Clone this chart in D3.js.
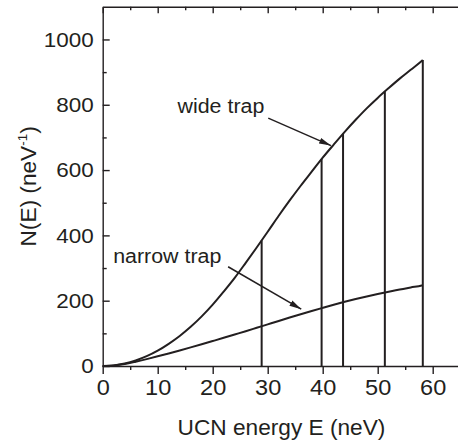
<!DOCTYPE html>
<html>
<head>
<meta charset="utf-8">
<script src="https://cdn.jsdelivr.net/npm/d3@7"></script>
<style>
  html, body { margin: 0; padding: 0; background: #fff; }
  svg { display: block; }
  text { font-family: "Liberation Sans", Arial, Helvetica, sans-serif; fill: #231f20; }
</style>
</head>
<body>
<svg id="chart" width="458" height="443"></svg>
<script>
// UCN energy grid (neV)
const energy = [0, 2, 4, 6, 8, 10, 12, 14, 16, 18, 20, 22, 24, 26, 28, 30, 32, 34, 36, 38,
                40, 42, 44, 46, 48, 50, 52, 54, 56, 58, 58.2];
// Spectrum N(E) for the wide trap (neV^-1)
const wideTrap = [0, 1.9, 7.5, 17, 30, 47, 68, 92, 120, 152, 188, 228, 270, 316, 363, 411, 460, 507, 552, 595,
                  638, 678, 717, 754, 789, 821, 851, 880, 907, 934, 937];
// Spectrum N(E) for the narrow trap (neV^-1)
const narrowTrap = [0, 1.8, 6, 13, 21, 29.6, 38.5, 47.6, 57, 66.6, 76.4, 86.3, 96.4, 106.5, 117, 127.5, 138, 148.3, 158.4, 168.3,
                    178, 187.5, 196.5, 205, 213, 220.5, 227.5, 234, 240.5, 246.5, 247.5];
// Energy cut-offs marked by vertical lines (neV)
const cutoffs = [28.9, 39.8, 43.7, 51.3, 58.2];

// Axis ticks
const xMajorTicks = [0, 10, 20, 30, 40, 50, 60];
const xMinorTicks = [5, 15, 25, 35, 45, 55];
const yMajorTicks = [0, 200, 400, 600, 800, 1000];
const yMinorTicks = [100, 300, 500, 700, 900];

// Annotation labels: text, label anchor and arrow (data units)
const labels = ["wide trap", "narrow trap"];
const labelAt = [[13.6, 774], [1.9, 314]];
const arrowFrom = [[30.1, 759], [22.8, 304]];
const arrowTo = [[41.5, 675], [36.1, 174]];

const ink = "#231f20";
const stretch = 1.07;   // slightly wide lettering
const svg = d3.select("#chart");

const x = d3.scaleLinear().domain([0, 65]).range([102.7, 460.2]);
const y = d3.scaleLinear().domain([0, 1100]).range([366, 6.8]);

// arrowhead marker
svg.append("defs").append("marker")
  .attr("id", "head")
  .attr("viewBox", "0 -4 12 8")
  .attr("refX", 12).attr("refY", 0)
  .attr("markerUnits", "userSpaceOnUse")
  .attr("markerWidth", 12).attr("markerHeight", 8)
  .attr("orient", "auto")
  .append("path")
  .attr("d", "M0,-3L12,0L0,3Z")
  .attr("fill", ink);

function styleAxis(g, size = 21) {
  g.selectAll("path, line").attr("stroke", ink).attr("stroke-width", 1.4);
  g.selectAll("text").attr("fill", ink).attr("font-size", size)
    .attr("font-family", "Liberation Sans, Arial, sans-serif");
}
// widen tick labels about their own anchor
function widen(g) {
  g.selectAll(".tick text").each(function () {
    const t = d3.select(this);
    const tx = +t.attr("x") || 0;
    t.attr("x", tx / stretch).attr("transform", `scale(${stretch},1)`);
  });
}

// bottom axis: outward ticks
const gx = svg.append("g").attr("transform", `translate(0,${y(0)})`);
gx.call(d3.axisBottom(x).tickValues(xMajorTicks).tickFormat(d3.format("d"))
    .tickSizeInner(8).tickSizeOuter(0).tickPadding(5))
  .call(styleAxis, 22).call(widen);
gx.append("g").call(d3.axisBottom(x).tickValues(xMinorTicks).tickSize(4).tickFormat(""))
  .call(g => g.select(".domain").remove()).call(styleAxis);

// left axis: inward ticks
const gy = svg.append("g").attr("transform", `translate(${x(0)},0)`);
gy.call(d3.axisLeft(y).tickValues(yMajorTicks).tickFormat(d3.format("d"))
    .tickSizeInner(-7).tickSizeOuter(0).tickPadding(9))
  .call(styleAxis).call(widen);
gy.append("g").call(d3.axisLeft(y).tickValues(yMinorTicks).tickSize(-4).tickFormat(""))
  .call(g => g.select(".domain").remove()).call(styleAxis);

// top frame with inward ticks, no labels
const gt = svg.append("g").attr("transform", `translate(0,${y(1100)})`);
gt.call(d3.axisTop(x).tickValues(xMajorTicks).tickSizeInner(-6.5).tickSizeOuter(0).tickFormat(""))
  .call(styleAxis);
gt.append("g").call(d3.axisTop(x).tickValues(xMinorTicks).tickSize(-3.5).tickFormat(""))
  .call(g => g.select(".domain").remove()).call(styleAxis);

// spectra
const line = d3.line().x(d => x(d[0])).y(d => y(d[1])).curve(d3.curveMonotoneX);
[wideTrap, narrowTrap].forEach(series => {
  svg.append("path")
    .datum(energy.map((e, i) => [e, series[i]]))
    .attr("d", line)
    .attr("fill", "none")
    .attr("stroke", ink)
    .attr("stroke-width", 2);
});

// cut-off lines rise from the axis to the wide-trap spectrum
const wideAt = e => {
  const i = Math.min(d3.bisectRight(energy, e), energy.length - 1);
  const e0 = energy[i - 1], e1 = energy[i];
  const t = (e - e0) / (e1 - e0);
  return wideTrap[i - 1] + t * (wideTrap[i] - wideTrap[i - 1]);
};
svg.append("g").selectAll("line")
  .data(cutoffs)
  .join("line")
  .attr("x1", d => x(d)).attr("x2", d => x(d))
  .attr("y1", y(0)).attr("y2", d => y(wideAt(d)))
  .attr("stroke", ink).attr("stroke-width", 2);

// annotations
labels.forEach((t, i) => {
  svg.append("text")
    .attr("transform", `translate(${x(labelAt[i][0])},${y(labelAt[i][1])}) scale(${stretch},1)`)
    .attr("font-size", 20)
    .text(t);
  svg.append("line")
    .attr("x1", x(arrowFrom[i][0])).attr("y1", y(arrowFrom[i][1]))
    .attr("x2", x(arrowTo[i][0])).attr("y2", y(arrowTo[i][1]))
    .attr("stroke", ink).attr("stroke-width", 1.5)
    .attr("marker-end", "url(#head)");
});

// axis titles
svg.append("text")
  .attr("transform", `translate(${(x(0) + x(65)) / 2},435) scale(1.03,1)`)
  .attr("text-anchor", "middle")
  .attr("font-size", 22)
  .text("UCN energy E (neV)");

const yt = svg.append("text")
  .attr("transform", `translate(36,${(y(0) + y(1100)) / 2}) rotate(-90) scale(1.03,1)`)
  .attr("text-anchor", "middle")
  .attr("font-size", 22);
yt.append("tspan").text("N(E) (neV");
yt.append("tspan").attr("font-size", 13).attr("dy", -9).text("-1");
yt.append("tspan").attr("dy", 9).text(")");
</script>
</body>
</html>
